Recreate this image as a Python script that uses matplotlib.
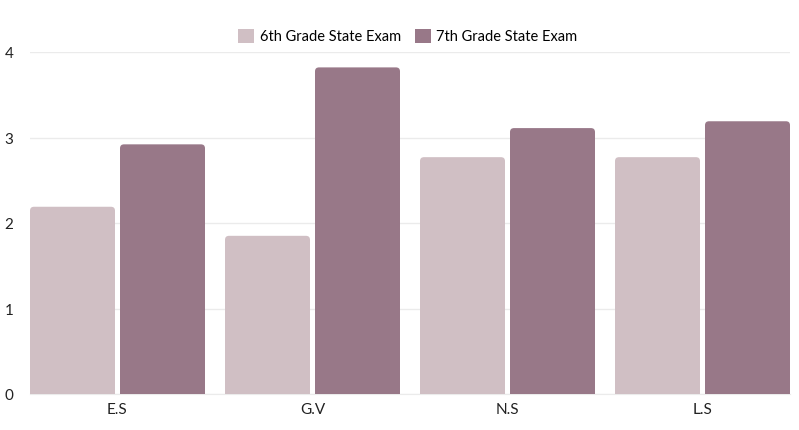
import matplotlib.pyplot as plt
from matplotlib.patches import FancyBboxPatch, Patch

categories = ["E.S", "G.V", "N.S", "L.S"]
grade6 = [2.19, 1.85, 2.77, 2.77]
grade7 = [2.92, 3.82, 3.11, 3.19]
series_names = ["6th Grade State Exam", "7th Grade State Exam"]
colors = ["#d0bfc4", "#987888"]

plt.rcParams['font.family'] = ['Lato', 'DejaVu Sans']

fig = plt.figure(figsize=(7.99, 4.31), dpi=100)
ax = fig.add_axes([30 / 799, 36 / 431, 760 / 799, 342 / 431])

bw = 85 / 195
off = 45 / 195
# pixels per data unit, for keeping corner rounding circular
px_x = 195
px_y = 342 / 4
r = 4 / px_x

for i, cat in enumerate(categories):
    for val, dx, c in [(grade6[i], -off, colors[0]), (grade7[i], off, colors[1])]:
        x0 = i + dx - bw / 2
        p = FancyBboxPatch((x0 + r, -0.2), bw - 2 * r, val + 0.2 - r * px_x / px_y,
                           boxstyle=f"round,pad={r},rounding_size={r}",
                           mutation_aspect=px_x / px_y,
                           fc=c, ec="none", zorder=3)
        ax.add_patch(p)

ax.set_xlim(-87.5 / 195, 3 + 87.5 / 195)
ax.set_ylim(0, 4)
ax.set_xticks(range(len(categories)))
ax.set_xticklabels(categories)
ax.set_yticks([0, 1, 2, 3, 4])
ax.grid(axis='y', color='#ebebeb', linewidth=1, zorder=0)
for s in ['top', 'right', 'left']:
    ax.spines[s].set_visible(False)
ax.spines['bottom'].set_color('#ebebeb')
ax.tick_params(axis='both', length=0, labelsize=11, colors='#222222')
ax.tick_params(axis='y', pad=12)
ax.tick_params(axis='x', pad=6)

handles = [Patch(fc=colors[0], ec='none'), Patch(fc=colors[1], ec='none')]
fig.legend(handles, series_names, loc='center', bbox_to_anchor=(408 / 799, 1 - 37 / 431),
           ncol=2, frameon=False, fontsize=10.5, handlelength=1.1, handleheight=1.1,
           handletextpad=0.4, columnspacing=0.9)

fig.savefig("out.png", dpi=100)
